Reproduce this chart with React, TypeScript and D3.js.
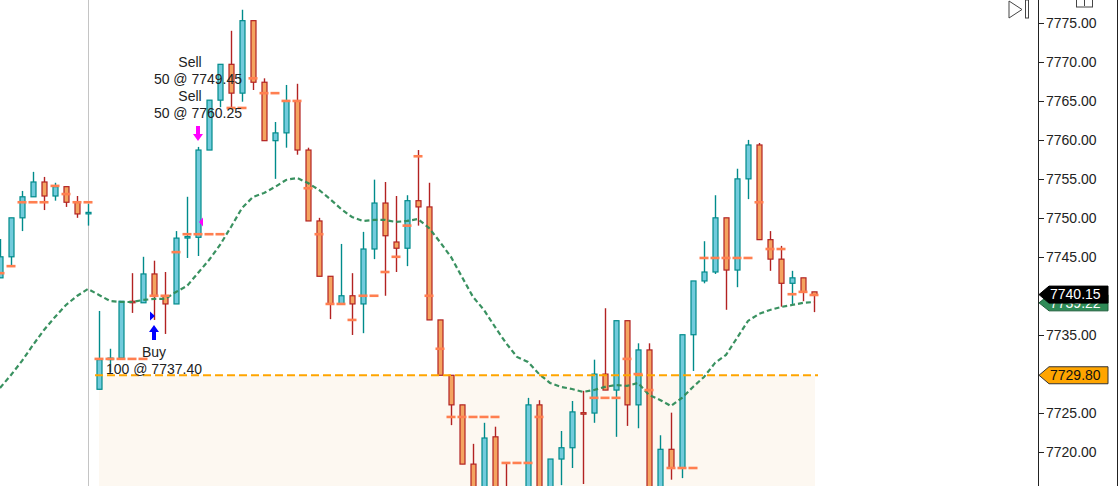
import React from 'react';
import * as d3 from 'd3';

const W = 1118;
const H = 486;

// OHLC per bar, index 0 = leftmost
const opens = [7742.3, 7745.0, 7750.0, 7752.7, 7754.6, 7752.8, 7754.0, 7752.0, 7750.6, 7728.0,
  7731.9, 7732.0, 7739.3, 7739.1, 7742.8, 7740.0, 7738.95, 7747.5, 7747.5, 7758.7,
  7765.1, 7769.7, 7766.0, 7775.3, 7767.4, 7759.9, 7760.9, 7765.0, 7758.7, 7749.6,
  7742.5, 7738.95, 7740.0, 7738.95, 7746.0, 7751.9, 7746.9, 7746.1, 7752.2, 7751.4,
  7736.9, 7729.8, 7726.0, 7718.4, 7713.0, 7721.9, 7714.5, 7710.5, 7714.0, 7726.0,
  7714.0, 7719.05, 7720.5, 7725.0, 7724.95, 7729.95, 7727.9, 7736.8, 7726.0, 7733.05,
  7714.5, 7720.3, 7717.9, 7735.0, 7741.9, 7743.05, 7750.0, 7743.3, 7755.0, 7759.35,
  7747.2, 7744.7, 7741.6, 7742.3, 7740.5];
const highs = [7747.3, 7750.0, 7753.45, 7755.9, 7755.25, 7754.5, 7754.0, 7752.8, 7751.8, 7738.05,
  7733.2, 7739.3, 7742.9, 7745.0, 7744.5, 7743.05, 7748.3, 7752.7, 7759.1, 7765.1,
  7769.7, 7774.0, 7776.7, 7775.3, 7767.9, 7762.3, 7767.05, 7767.2, 7759.0, 7750.0,
  7742.5, 7746.65, 7742.9, 7748.2, 7754.9, 7754.6, 7752.8, 7752.9, 7758.7, 7754.5,
  7736.9, 7729.8, 7726.0, 7721.0, 7723.7, 7723.2, 7718.55, 7714.5, 7726.9, 7726.6,
  7719.05, 7722.65, 7726.5, 7727.8, 7731.8, 7738.4, 7736.8, 7736.8, 7733.9, 7733.9,
  7722.1, 7725.0, 7735.0, 7741.9, 7747.0, 7752.9, 7750.0, 7756.3, 7760.0, 7759.6,
  7748.3, 7746.4, 7743.2, 7742.3, 7740.5];
const lows = [7742.3, 7743.95, 7748.3, 7752.7, 7751.0, 7752.2, 7751.4, 7750.0, 7749.0, 7728.0,
  7730.2, 7732.0, 7737.8, 7739.1, 7736.9, 7735.1, 7738.95, 7744.85, 7745.1, 7758.7,
  7764.2, 7764.1, 7764.9, 7766.4, 7759.9, 7755.0, 7759.0, 7758.1, 7749.6, 7742.5,
  7737.0, 7738.95, 7734.97, 7735.2, 7744.7, 7740.0, 7743.05, 7743.8, 7749.0, 7736.9,
  7729.8, 7723.4, 7718.4, 7712.5, 7712.0, 7711.5, 7710.5, 7709.75, 7713.0, 7713.5,
  7713.0, 7715.7, 7717.9, 7715.85, 7723.7, 7727.9, 7721.9, 7723.3, 7723.0, 7712.0,
  7713.5, 7716.4, 7716.6, 7730.35, 7741.6, 7742.8, 7738.2, 7741.1, 7752.4, 7747.2,
  7743.2, 7738.6, 7738.95, 7739.3, 7737.9];
const closes = [7745.0, 7750.0, 7752.7, 7754.6, 7752.8, 7754.0, 7752.0, 7750.5, 7750.7, 7731.8,
  7732.0, 7739.3, 7739.1, 7742.8, 7740.0, 7738.95, 7747.4, 7747.6, 7758.7, 7765.1,
  7769.7, 7766.0, 7775.3, 7767.4, 7759.9, 7760.9, 7765.0, 7758.7, 7749.6, 7742.5,
  7738.95, 7740.0, 7738.95, 7746.0, 7751.9, 7747.7, 7746.1, 7752.2, 7751.4, 7736.9,
  7729.8, 7726.0, 7718.4, 7713.5, 7721.75, 7713.0, 7711.5, 7713.5, 7726.0, 7714.0,
  7719.05, 7720.5, 7725.1, 7724.9, 7729.95, 7727.9, 7736.8, 7726.0, 7733.05, 7713.0,
  7720.3, 7717.9, 7735.0, 7741.9, 7743.05, 7750.0, 7743.3, 7755.0, 7759.35, 7747.2,
  7744.7, 7741.6, 7742.3, 7740.5, 7740.15];

// step indicator (short orange ticks), null = off-screen
const levels: (number | null)[] = [7742.9, 7743.8, 7752.0, 7752.0, 7752.0, 7754.1, 7753.05, 7752.0, 7752.0, 7731.9,
  7731.9, 7731.9, 7731.9, 7731.9, 7740.0, 7740.0, 7745.6, 7747.9, 7747.9, 7747.9,
  7747.9, 7764.1, 7764.1, 7767.9, 7766.0, 7766.0, 7765.0, 7765.0, 7753.8, 7747.9,
  7738.95, 7738.95, 7736.9, 7740.0, 7740.0, 7743.05, 7745.0, 7749.0, 7757.9, 7740.0,
  7733.2, 7724.45, 7724.45, 7724.45, 7724.45, 7724.45, 7718.55, 7718.55, 7718.55, 7724.45,
  null, null, null, null, 7726.9, 7726.9, 7726.9, 7731.9, 7729.95, 7727.9,
  null, 7717.9, 7717.9, 7717.9, 7744.85, 7744.85, 7744.85, 7744.85, 7744.85, 7752.0,
  7746.0, 7746.0, 7740.2, 7740.5, 7740.1];

// moving average
const maValues = [7728.17, 7729.84, 7731.64, 7733.69, 7735.61, 7737.28, 7738.82, 7739.97, 7740.87, 7740.1,
  7739.33, 7739.2, 7739.2, 7739.46, 7739.59, 7739.59, 7740.49, 7741.26, 7742.92, 7744.59,
  7746.52, 7748.83, 7751.26, 7752.68, 7753.19, 7753.96, 7754.86, 7755.12, 7754.47, 7753.58,
  7752.42, 7751.14, 7750.11, 7749.6, 7749.73, 7749.73, 7749.47, 7749.6, 7749.85, 7748.7,
  7746.9, 7744.98, 7742.41, 7739.85, 7738.18, 7736.0, 7733.94, 7732.15, 7731.51, 7729.97,
  7728.81, 7728.3, 7728.04, 7727.66, 7727.91, 7728.3, 7728.55, 7728.43, 7728.81, 7727.27,
  7726.63, 7725.86, 7726.89, 7728.3, 7729.58, 7731.38, 7732.41, 7734.59, 7736.77, 7737.67,
  7738.18, 7738.56, 7738.82, 7739.08, 7739.2];

// 7730 and 7740 sit under the price tags
const yTicks = [7715, 7720, 7725, 7735, 7745, 7750, 7755, 7760, 7765, 7770, 7775];

const posLevel = 7729.8;
const lastPrice = 7740.15;
const maLast = 7739.22;
const entryBar = 9;
const buyBar = 14;
const buyPrice = 7737.4;
const sellBar = 18;
const sellPrices = [7749.45, 7760.25];
const sessionBar = 8;

const BULL_FILL = '#72cbdc';
const BULL_LINE = '#008b8b';
const BEAR_FILL = '#f4a460';
const BEAR_LINE = '#b22222';
const FONT = '"Liberation Sans", Arial, sans-serif';

const App: React.FC = () => {
  const x = d3.scaleLinear().domain([0, 74]).range([0, 814]);
  const y = d3.scaleLinear().domain([7715, 7775]).range([490.6, 23]);
  const axisX = 1038;

  const maLine = d3.line<number>()
    .x((_, i) => x(i))
    .y(d => y(d));

  const tag = (py: number, h = 9) =>
    `M${axisX + 1},${py} L${axisX + 11},${py - h} L${1108},${py - h} L${1108},${py + h} L${axisX + 11},${py + h} Z`;

  const bw = 5;

  return (
    <svg width={W} height={H} style={{ position: 'absolute', left: 0, top: 0, background: '#fff' }}
      fontFamily={FONT}>
      {/* position area */}
      <rect x={x(entryBar)} y={y(posLevel)} width={x(74) + 1 - x(entryBar)} height={H - y(posLevel)}
        fill="#fdf8f1" />
      {/* session separator */}
      <line x1={x(sessionBar) + 0.5} x2={x(sessionBar) + 0.5} y1={0} y2={H} stroke="#c4c4c4" strokeWidth={1} />

      {/* candles */}
      {opens.map((o, i) => {
        const c = closes[i];
        const up = c >= o;
        const cx = Math.round(x(i)) + 0.5;
        const top = y(Math.max(o, c));
        const bot = y(Math.min(o, c));
        return (
          <g key={i}>
            <line x1={cx} x2={cx} y1={y(highs[i])} y2={y(lows[i])}
              stroke={up ? BULL_LINE : BEAR_LINE} strokeWidth={1.4} />
            <rect x={cx - bw / 2} y={top} width={bw} height={Math.max(1.5, bot - top)}
              fill={up ? BULL_FILL : BEAR_FILL} stroke={up ? BULL_LINE : BEAR_LINE} strokeWidth={1.2} />
          </g>
        );
      })}

      {/* moving average */}
      <path d={maLine(maValues) || ''} fill="none" stroke="#2e8b57" strokeWidth={2.2}
        strokeDasharray="5,3" opacity={0.95} />

      {/* position level */}
      <line x1={x(entryBar) - 4} x2={x(74) + 4} y1={y(posLevel)} y2={y(posLevel)}
        stroke="#ffa500" strokeWidth={2} strokeDasharray="8,4" />

      {/* step ticks */}
      {levels.map((v, i) => v === null ? null : (
        <line key={i} x1={x(i) - 4.5} x2={x(i) + 4.5} y1={y(v)} y2={y(v)} stroke="#ff7f50" strokeWidth={2.6} />
      ))}

      {/* trade markers */}
      <path d={`M${x(buyBar) - 4},${y(buyPrice) - 4.5} L${x(buyBar) + 1},${y(buyPrice)} L${x(buyBar) - 4},${y(buyPrice) + 4.5} Z`}
        fill="#0000ff" />
      <path d={`M${x(buyBar)},${y(buyPrice) + 9} L${x(buyBar) + 5},${y(buyPrice) + 16} L${x(buyBar) + 2},${y(buyPrice) + 16}
        L${x(buyBar) + 2},${y(buyPrice) + 24} L${x(buyBar) - 2},${y(buyPrice) + 24} L${x(buyBar) - 2},${y(buyPrice) + 16}
        L${x(buyBar) - 5},${y(buyPrice) + 16} Z`} fill="#0000ff" />
      <path d={`M${x(sellBar) + 5},${y(sellPrices[0]) - 4.5} L${x(sellBar) + 1},${y(sellPrices[0])} L${x(sellBar) + 5},${y(sellPrices[0]) + 4.5} Z`}
        fill="#ff00ff" />
      <path d={`M${x(sellBar) - 2},126 L${x(sellBar) + 2},126 L${x(sellBar) + 2},134 L${x(sellBar) + 5},134
        L${x(sellBar)},141 L${x(sellBar) - 5},134 L${x(sellBar) - 2},134 Z`} fill="#ff00ff" />

      {/* trade labels */}
      <g fontSize={14} fill="#222" textAnchor="middle">
        <text x={x(sellBar) - 8} y={67}>Sell</text>
        <text x={x(sellBar)} y={84}>{`50 @ ${sellPrices[0].toFixed(2)}`}</text>
        <text x={x(sellBar) - 8} y={101}>Sell</text>
        <text x={x(sellBar)} y={118}>{`50 @ ${sellPrices[1].toFixed(2)}`}</text>
        <text x={x(buyBar)} y={357}>Buy</text>
        <text x={x(buyBar)} y={374}>{`100 @ ${buyPrice.toFixed(2)}`}</text>
      </g>

      {/* right axis */}
      <rect x={axisX} y={0} width={W - axisX} height={H} fill="#fff" />
      <line x1={axisX + 0.5} x2={axisX + 0.5} y1={0} y2={H} stroke="#222" />
      <line x1={W - 0.5} x2={W - 0.5} y1={0} y2={H} stroke="#222" />
      {yTicks.map(t => (
        <g key={t}>
          <line x1={axisX} x2={axisX + 6} y1={Math.round(y(t)) + 0.5} y2={Math.round(y(t)) + 0.5} stroke="#222" />
          <text x={axisX + 8} y={y(t)} dy="0.35em" fontSize={14} fill="#222">{t.toFixed(2)}</text>
        </g>
      ))}

      {/* price tags */}
      <path d={tag(y(maLast) + 1, 8)} fill="#2e8b57" stroke="#1d5e3a" />
      <text x={axisX + 12} y={y(maLast) + 1} dy="0.35em" fontSize={14} fill="#fff">{maLast.toFixed(2)}</text>
      <path d={tag(y(lastPrice), 8.5)} fill="#000" stroke="#000" />
      <text x={axisX + 12} y={y(lastPrice)} dy="0.35em" fontSize={14} fill="#fff">{lastPrice.toFixed(2)}</text>
      <path d={tag(y(posLevel), 8.5)} fill="#ffa500" stroke="#333" />
      <text x={axisX + 12} y={y(posLevel)} dy="0.35em" fontSize={14} fill="#111">{posLevel.toFixed(2)}</text>

      {/* top-right controls */}
      <path d="M1009,1 L1022,9.5 L1009,18 Z" fill="#fff" stroke="#444" />
      <rect x={1025.5} y={0} width={3} height={18} fill="#fff" stroke="#444" />
      <rect x={1076.5} y={-10} width={16} height={17} fill="#fff" stroke="#444" />
      <line x1={1084.5} x2={1084.5} y1={0} y2={6} stroke="#444" />
    </svg>
  );
};

export default App;
